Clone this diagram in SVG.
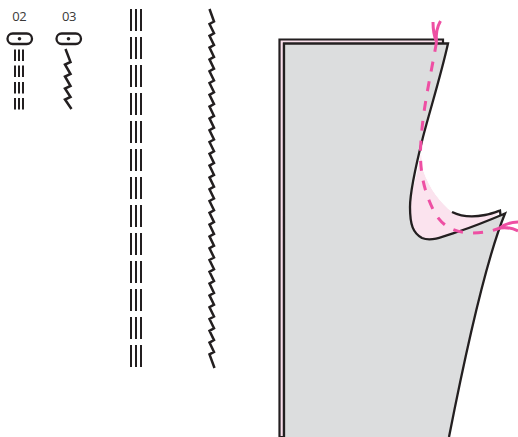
<svg xmlns="http://www.w3.org/2000/svg" width="518" height="437" viewBox="0 0 518 437">
<style>
.t{font-family:"Open Sans","Liberation Sans",sans-serif;font-size:13px;fill:#3a3938}
.o{fill:none;stroke:#231f20;stroke-width:2.3;stroke-linejoin:miter}
.z{fill:none;stroke:#231f20;stroke-width:2.5;stroke-linejoin:miter;stroke-miterlimit:4}
.p{fill:none;stroke:#ee4fa3;stroke-width:3}
.b{stroke:#231f20;stroke-width:2}
</style>
<defs>
<g id="s"><path class="b" d="M15 0V11.500M19 0V11.500M23 0V11.500"/></g>
<g id="l"><path class="b" d="M131 0V22M136 0V22M141 0V22"/></g>
</defs>
<g id="stitch-02">
<text class="t" x="12.300" y="21" textLength="14.500">02</text>
<rect class="o" x="7.500" y="33.500" width="24.500" height="10.500" rx="5.200" fill="#fff"/>
<circle cx="19.500" cy="38.700" r="1.800" fill="#231f20"/>
<use href="#s" y="49.500"/><use href="#s" y="65.500"/><use href="#s" y="82"/><use href="#s" y="98"/>
</g>
<g id="stitch-03">
<text class="t" x="62" y="21" textLength="14.500">03</text>
<rect class="o" x="56.500" y="33.500" width="24.500" height="10.500" rx="5.200" fill="#fff"/>
<circle cx="68.500" cy="38.700" r="1.800" fill="#231f20"/>
<path class="z" d="M65.500 49L70.500 62L65 64.500L70.500 74L65 76.500L70.500 86L65 88.500L70.500 97L65 99.500L71.500 109"/>
</g>
<g id="bars">
<use href="#l" y="9"/><use href="#l" y="37"/><use href="#l" y="65"/><use href="#l" y="93"/><use href="#l" y="121"/><use href="#l" y="149"/><use href="#l" y="177"/><use href="#l" y="205"/><use href="#l" y="233"/><use href="#l" y="261"/><use href="#l" y="289"/><use href="#l" y="317"/><use href="#l" y="345"/>
</g>
<g id="zigzag">
<path class="z" d="M209.500 9L214 21.500L209.500 24L214 33.300L209.500 35.800L214 45.100L209.500 47.600L214 56.900L209.500 59.400L214 68.700L209.500 71.200L214 80.500L209.500 83L214 92.300L209.500 94.800L214 104.100L209.500 106.600L214 115.900L209.500 118.400L214 127.700L209.500 130.200L214 139.500L209.500 142L214 151.300L209.500 153.800L214 163.100L209.500 165.600L214 174.900L209.500 177.400L214 186.700L209.500 189.200L214 198.500L209.500 201L214 210.300L209.500 212.800L214 222.100L209.500 224.600L214 233.900L209.500 236.400L214 245.700L209.500 248.200L214 257.500L209.500 260L214 269.300L209.500 271.800L214 281.100L209.500 283.600L214 292.900L209.500 295.400L214 304.700L209.500 307.200L214 316.500L209.500 319L214 328.300L209.500 330.800L214 340.100L209.500 342.600L214 351.900L209.500 354.400L214.500 368"/>
</g>
<g id="garment">
<path d="M279.500 437V39.500H443V44H284V437Z" fill="#fbe0ec" stroke="#231f20" stroke-width="2.200"/>
<path d="M284 437V43.500H448C441 75 430 110 423 137C416 165 410 190 410 207C410 225 413 233 422 238C432 242 445 236 460 231C478 225 492 219 505 213.500C490 250 470 330 449 437Z" fill="#dcddde"/>
<path d="M421.500 150C418 175 411 190 410 207C410 225 413 233 422 238C432 242 445 236 457 232C475 226 490 220 500 212L452 212C440 202 430 190 423 170Z" fill="#fbe3ee"/>
<path d="M452 212C440 202 430 190 423 170C420 150 421 146 423 137L430 110L470 100L500 211C480 216 465 217 452 212Z" fill="#fff"/>
<path class="o" d="M284 437V43.500H448C441 75 430 110 423 137C416 165 410 190 410 207C410 225 413 233 422 238C432 242 445 236 460 231C478 225 492 219 505 213.500C490 250 470 330 449 437"/>
<path class="o" d="M452 212C462 217 475 217 485 215C491 214 496 212 500 210.500L500.500 215"/>
<path class="p" d="M433 22C433 30 434 36 436.500 42C435.500 33 437 27 440.500 21"/>
<path class="p" d="M436.500 42C431 75 422 110 420.500 150C420 175 425 195 436 215C445 228 455 232 470 233C480 233 490 232 500 228" stroke-dasharray="10 10"/>
<path class="p" d="M500 228C505 224 512 222 518 222M500 228C506 227 512 228 518 231"/>
</g>
</svg>
